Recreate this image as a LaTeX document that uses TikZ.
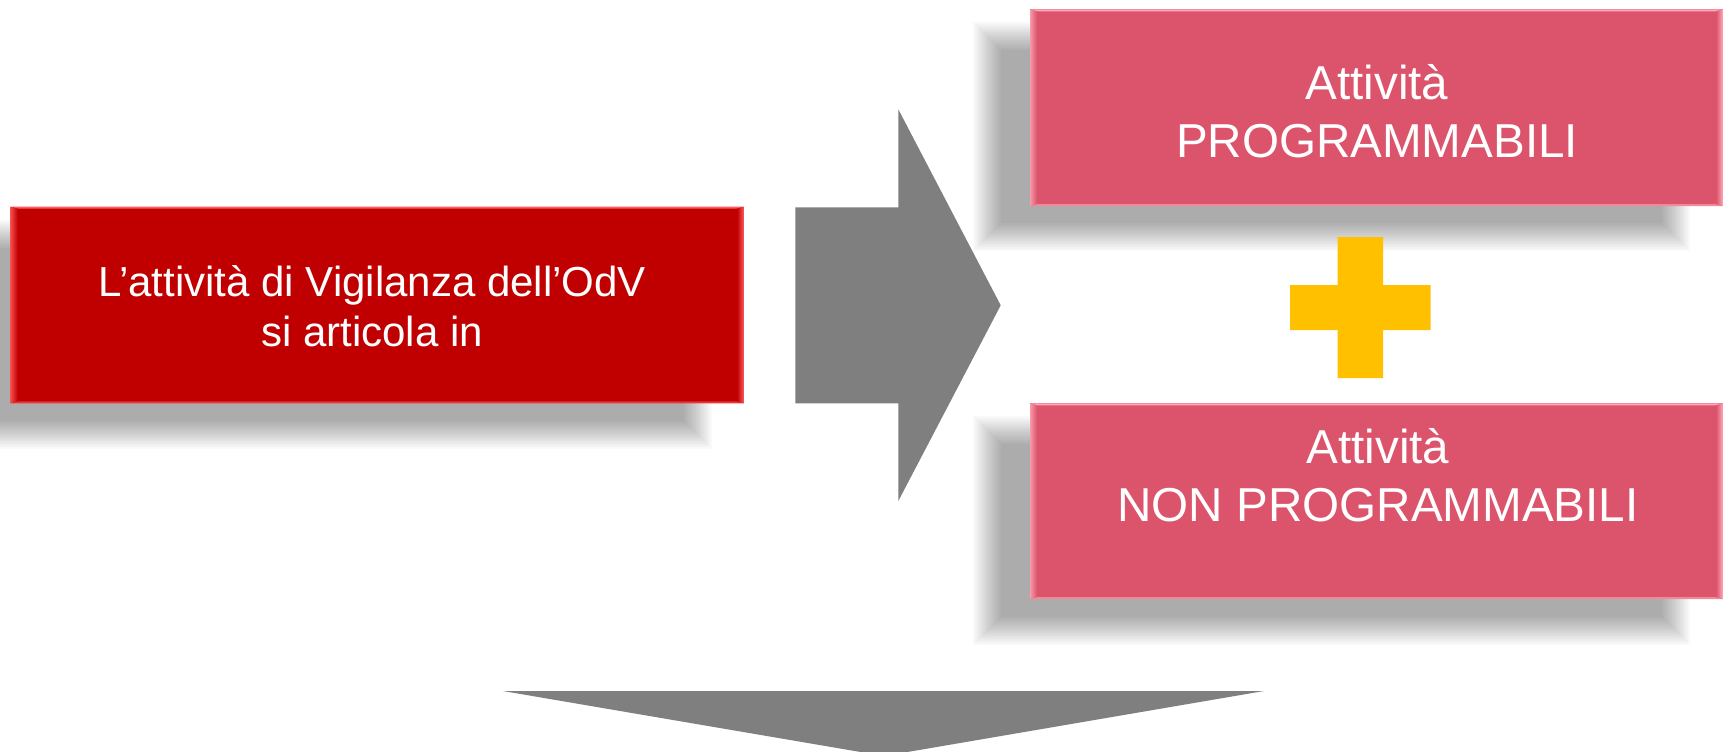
\documentclass[tikz,border=0pt]{standalone}
\usepackage{fontspec}
\setmainfont{Liberation Sans}
\usetikzlibrary{calc,fit}
\definecolor{odvred}{RGB}{192,0,0}
\definecolor{odvredlight}{RGB}{255,92,92}
\definecolor{odvpink}{RGB}{219,84,107}
\definecolor{odvpinklight}{RGB}{255,170,186}
\definecolor{arrowgray}{RGB}{127,127,127}
\definecolor{plusyellow}{RGB}{255,192,0}
\newcommand\mydropshadow[4]{%
  \foreach \k in {0,...,14}{%
    \fill[black,opacity=0.022] ({#1-15+2*\k},{#2-15+2*\k}) rectangle ({#3+15-2*\k},{#4+15-2*\k});
  }}
\newcommand\mybevel[3]{%
  \fill[#2] (#1.north west) -- (#1.north east) -- ($(#1.north east)+(-7,2)$) -- ($(#1.north west)+(7,2)$) -- cycle;
  \fill[#2!60!#3] (#1.south west) -- (#1.south east) -- ($(#1.south east)+(-7,-2)$) -- ($(#1.south west)+(7,-2)$) -- cycle;
  \path[left color=#2!80!#3, right color=#3] (#1.north west) -- ($(#1.north west)+(7,2)$) -- ($(#1.south west)+(7,-2)$) -- (#1.south west) -- cycle;
  \path[left color=#3, right color=#2] (#1.north east) -- ($(#1.north east)+(-7,2)$) -- ($(#1.south east)+(-7,-2)$) -- (#1.south east) -- cycle;
}
\tikzset{
  boxnode/.style={inner sep=0pt, outer sep=0pt, draw=none},
  boxtext/.style={text=white, align=center, inner sep=0pt},
  shapegray/.style={fill=arrowgray, draw=none},
}
\begin{document}
\begin{tikzpicture}[x=0.5pt,y=-0.5pt]
\useasboundingbox (0,0) rectangle (1723,751);
\fill[white] (0,0) rectangle (1723,751);
% shadows
\mydropshadow{-31}{235}{697}{434}
\mydropshadow{988}{37}{1675}{236}
\mydropshadow{988}{431}{1675}{630}
% boxes
\coordinate (a1) at (10.7,206.7);
\coordinate (b1) at (744,403.3);
\node[boxnode, fit=(a1)(b1), fill=odvred] (odv) {};
\coordinate (a2) at (1030,9.3);
\coordinate (b2) at (1723,206);
\node[boxnode, fit=(a2)(b2), fill=odvpink] (prog) {};
\coordinate (a3) at (1030,403.3);
\coordinate (b3) at (1723,599);
\node[boxnode, fit=(a3)(b3), fill=odvpink] (nonprog) {};
\mybevel{odv}{odvredlight}{odvred}
\mybevel{prog}{odvpinklight}{odvpink}
\mybevel{nonprog}{odvpinklight}{odvpink}
% texts
\node[boxtext, font=\fontsize{21}{25}\selectfont] (odvtext) at (372,306.6)
  {L’attività di Vigilanza dell’OdV\\si articola in};
\node[boxtext, font=\fontsize{23.8}{28.9}\selectfont] (progtext) at (1377,110.9)
  {Attività\\PROGRAMMABILI};
\node[boxtext, font=\fontsize{23.8}{28.9}\selectfont] (nonprogtext) at (1378,475)
  {Attività\\NON PROGRAMMABILI};
% big right arrow
\path[shapegray] (795.3,207.3) -- (898.3,207.3) -- (898.3,109.3) -- (1000.7,305.3)
  -- (898.3,501) -- (898.3,403.3) -- (795.3,403.3) -- cycle;
% plus sign
\fill[plusyellow] (1337.7,237) -- (1383,237) -- (1383,285) -- (1430.7,285) -- (1430.7,330)
  -- (1383,330) -- (1383,378) -- (1337.7,378) -- (1337.7,330) -- (1290,330) -- (1290,285)
  -- (1337.7,285) -- cycle;
% bottom down arrow head
\path[shapegray] (503,691) -- (1264,691) -- (884,756) -- cycle;
\end{tikzpicture}
\end{document}
